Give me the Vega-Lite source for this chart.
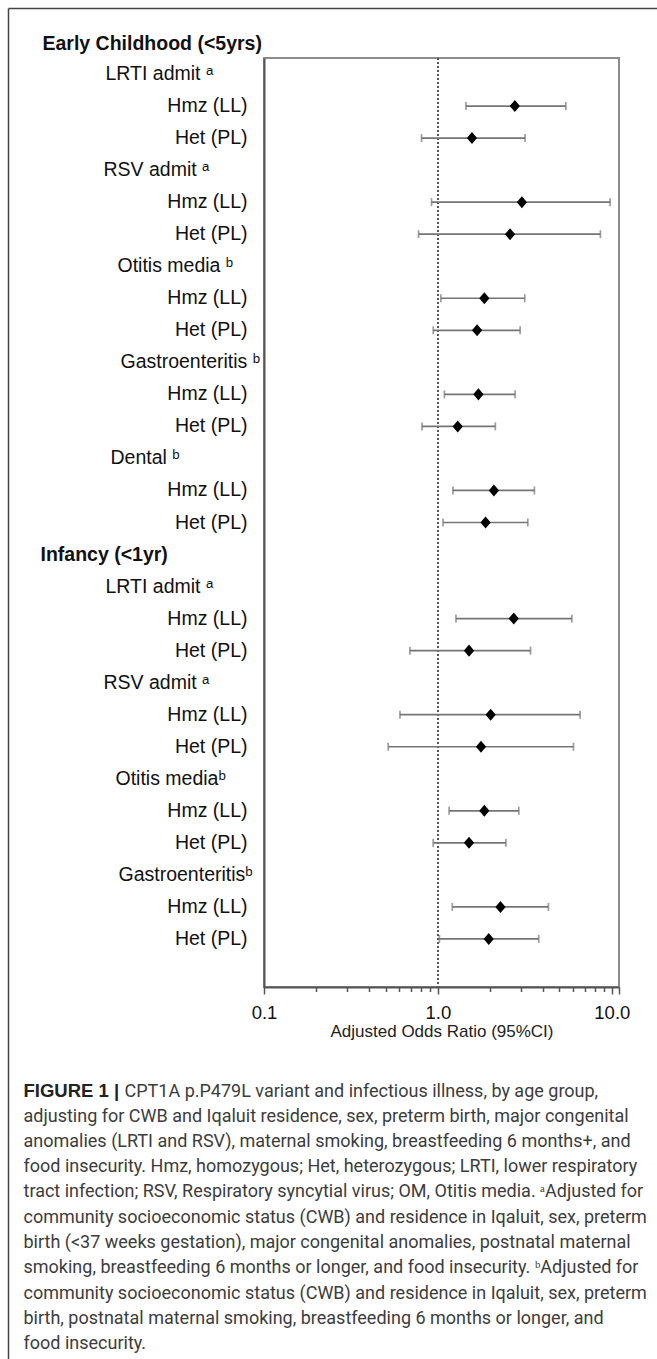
{
  "$schema": "https://vega.github.io/schema/vega-lite/v6.json",
  "width": 355,
  "height": 929,
  "autosize": {"type": "none"},
  "padding": {"left": 264, "top": 58, "right": 38, "bottom": 372},
  "background": "white",
  "config": {"view": {"stroke": "#8c8c8c", "strokeWidth": 2}, "font": "Liberation Sans"},
  "resolve": {
    "scale": {"x": "independent", "y": "independent"},
    "axis": {"x": "independent", "y": "independent"}
  },
  "layer": [
    {
      "data": {"values": [{}]},
      "mark": {"type": "point", "opacity": 0},
      "encoding": {
        "x": {
          "datum": 0, "type": "quantitative",
          "scale": {"domain": [0, 1], "range": [-256, 400]},
          "axis": {
            "orient": "top", "offset": 50, "domainColor": "#444", "domainWidth": 1.5,
            "ticks": false, "labels": false, "grid": false,
            "title": "FIGURE 1 |", "titleX": -241, "titleY": 1088, "titleAlign": "left",
            "titleBaseline": "alphabetic", "titleAngle": 0, "titleFont": "Liberation Sans",
            "titleFontSize": 18.5, "titleFontWeight": "bold", "titleColor": "#222"
          }
        },
        "y": {
          "datum": 0, "type": "quantitative",
          "scale": {"domain": [0, 1], "range": [-50, 1310]},
          "axis": {
            "orient": "left", "offset": 256, "domainColor": "#444", "domainWidth": 1.5,
            "ticks": false, "labels": false, "grid": false,
            "title": [
              "adjusting for CWB and Iqaluit residence, sex, preterm birth, major congenital",
              "anomalies (LRTI and RSV), maternal smoking, breastfeeding 6 months+, and",
              "food insecurity. Hmz, homozygous; Het, heterozygous; LRTI, lower respiratory",
              "tract infection; RSV, Respiratory syncytial virus; OM, Otitis media. ᵃAdjusted for",
              "community socioeconomic status (CWB) and residence in Iqaluit, sex, preterm",
              "birth (<37 weeks gestation), major congenital anomalies, postnatal maternal",
              "smoking, breastfeeding 6 months or longer, and food insecurity. ᵇAdjusted for",
              "community socioeconomic status (CWB) and residence in Iqaluit, sex, preterm",
              "birth, postnatal maternal smoking, breastfeeding 6 months or longer, and",
              "food insecurity."
            ],
            "titleX": 15, "titleY": 1063, "titleAlign": "left", "titleBaseline": "alphabetic",
            "titleAngle": 0, "titleLineHeight": 25.3, "titleFont": "Roboto", "titleFontSize": 18,
            "titleFontWeight": "normal", "titleColor": "#3c3c3c"
          }
        }
      }
    },
    {
      "data": {"values": [{}]},
      "mark": {"type": "point", "opacity": 0},
      "encoding": {
        "x": {
          "datum": 0, "type": "quantitative",
          "scale": {"domain": [0, 1]},
          "axis": {
            "orient": "top", "offset": 0, "domain": false,
            "ticks": false, "labels": false, "grid": false,
            "title": "CPT1A p.P479L variant and infectious illness, by age group,",
            "titleX": -140, "titleY": 1038, "titleAlign": "left", "titleBaseline": "alphabetic",
            "titleAngle": 0, "titleFont": "Roboto", "titleFontSize": 18,
            "titleFontWeight": "normal", "titleColor": "#3c3c3c"
          }
        },
        "y": {"datum": 0, "type": "quantitative", "scale": {"domain": [0, 1]}, "axis": null}
      }
    },
    {
      "data": {
        "values": [
          {"row": "Early Childhood (<5yrs)|LRTI admit ᵃ", "or": null, "lo": null, "hi": null},
          {"row": "Early Childhood (<5yrs)|LRTI admit ᵃ|Hmz (LL)", "or": 2.77, "lo": 1.45, "hi": 5.44},
          {"row": "Early Childhood (<5yrs)|LRTI admit ᵃ|Het (PL)", "or": 1.57, "lo": 0.805, "hi": 3.17},
          {"row": "Early Childhood (<5yrs)|RSV admit ᵃ", "or": null, "lo": null, "hi": null},
          {"row": "Early Childhood (<5yrs)|RSV admit ᵃ|Hmz (LL)", "or": 3.04, "lo": 0.919, "hi": 9.78},
          {"row": "Early Childhood (<5yrs)|RSV admit ᵃ|Het (PL)", "or": 2.6, "lo": 0.774, "hi": 8.6},
          {"row": "Early Childhood (<5yrs)|Otitis media ᵇ", "or": null, "lo": null, "hi": null},
          {"row": "Early Childhood (<5yrs)|Otitis media ᵇ|Hmz (LL)", "or": 1.85, "lo": 1.04, "hi": 3.16},
          {"row": "Early Childhood (<5yrs)|Otitis media ᵇ|Het (PL)", "or": 1.68, "lo": 0.94, "hi": 2.97},
          {"row": "Early Childhood (<5yrs)|Gastroenteritis ᵇ", "or": null, "lo": null, "hi": null},
          {"row": "Early Childhood (<5yrs)|Gastroenteritis ᵇ|Hmz (LL)", "or": 1.71, "lo": 1.09, "hi": 2.78},
          {"row": "Early Childhood (<5yrs)|Gastroenteritis ᵇ|Het (PL)", "or": 1.3, "lo": 0.81, "hi": 2.14},
          {"row": "Early Childhood (<5yrs)|Dental ᵇ", "or": null, "lo": null, "hi": null},
          {"row": "Early Childhood (<5yrs)|Dental ᵇ|Hmz (LL)", "or": 2.1, "lo": 1.22, "hi": 3.59},
          {"row": "Early Childhood (<5yrs)|Dental ᵇ|Het (PL)", "or": 1.88, "lo": 1.07, "hi": 3.29},
          {"row": "Infancy (<1yr)", "or": null, "lo": null, "hi": null},
          {"row": "Infancy (<1yr)|LRTI admit ᵃ", "or": null, "lo": null, "hi": null},
          {"row": "Infancy (<1yr)|LRTI admit ᵃ|Hmz (LL)", "or": 2.73, "lo": 1.27, "hi": 5.89},
          {"row": "Infancy (<1yr)|LRTI admit ᵃ|Het (PL)", "or": 1.51, "lo": 0.69, "hi": 3.41},
          {"row": "Infancy (<1yr)|RSV admit ᵃ", "or": null, "lo": null, "hi": null},
          {"row": "Infancy (<1yr)|RSV admit ᵃ|Hmz (LL)", "or": 2.01, "lo": 0.605, "hi": 6.57},
          {"row": "Infancy (<1yr)|RSV admit ᵃ|Het (PL)", "or": 1.77, "lo": 0.518, "hi": 6.02},
          {"row": "Infancy (<1yr)|Otitis mediaᵇ", "or": null, "lo": null, "hi": null},
          {"row": "Infancy (<1yr)|Otitis mediaᵇ|Hmz (LL)", "or": 1.85, "lo": 1.16, "hi": 2.92},
          {"row": "Infancy (<1yr)|Otitis mediaᵇ|Het (PL)", "or": 1.51, "lo": 0.94, "hi": 2.46},
          {"row": "Infancy (<1yr)|Gastroenteritisᵇ", "or": null, "lo": null, "hi": null},
          {"row": "Infancy (<1yr)|Gastroenteritisᵇ|Hmz (LL)", "or": 2.29, "lo": 1.21, "hi": 4.32},
          {"row": "Infancy (<1yr)|Gastroenteritisᵇ|Het (PL)", "or": 1.96, "lo": 1.02, "hi": 3.8}
        ]
      },
      "resolve": {"axis": {"x": "independent", "y": "independent"}},
      "layer": [
        {
          "mark": {"type": "rule", "opacity": 0},
          "encoding": {
            "y": {
              "field": "row", "type": "nominal", "sort": null,
              "scale": {"type": "band", "paddingInner": 0, "paddingOuter": 0.5, "align": 0},
              "axis": {
                "orient": "left",
                "title": "Early Childhood (<5yrs)", "titleAngle": 0, "titleAlign": "left",
                "titleBaseline": "middle", "titleX": -222, "titleY": -15,
                "titleFont": "Liberation Sans", "titleFontSize": 19.5, "titleFontWeight": "bold",
                "titleColor": "#111",
                "domain": true, "domainColor": "#555", "domainWidth": 2,
                "ticks": false, "tickSize": 0, "grid": false,
                "labelExpr": "peek(split(datum.value, '|'))",
                "labelFont": "Liberation Sans", "labelFontSize": 19.5, "labelColor": "#111",
                "labelLimit": 400, "labelOverlap": false,
                "labelAlign": {"condition": {"test": "length(split(datum.value,'|'))==3", "value": "right"}, "value": "left"},
                "labelFontWeight": {"condition": {"test": "length(split(datum.value,'|'))==1", "value": "bold"}, "value": "normal"},
                "labelPadding": {"expr": "length(split(datum.value,'|'))==3 ? 17 : length(split(datum.value,'|'))==1 ? 224 : indexof(datum.value,'Otitis')>=0 ? (indexof(datum.value,'Infancy')>=0 ? 149 : 147) : indexof(datum.value,'Gastro')>=0 ? (indexof(datum.value,'Infancy')>=0 ? 146 : 144) : indexof(datum.value,'Dental')>=0 ? 154 : indexof(datum.value,'RSV')>=0 ? 161 : 159"}
              }
            }
          }
        },
        {
          "mark": {"type": "rule", "color": "#555", "strokeDash": [2, 2], "strokeWidth": 1},
          "encoding": {
            "x": {
              "datum": 1, "type": "quantitative",
              "scale": {"type": "log", "domain": [0.1, 11], "nice": false},
              "axis": {
                "orient": "bottom",
                "values": [0.1, 0.2, 0.3, 0.4, 0.5, 0.6, 0.7, 0.8, 0.9, 1, 2, 3, 4, 5, 6, 7, 8, 9, 10, 11],
                "labelExpr": "(datum.value==0.1||datum.value==1||datum.value==10) ? format(datum.value,'.1f') : ''",
                "tickSize": {"condition": {"test": "datum.value==0.1||datum.value==1||datum.value==10||datum.value==11", "value": 7}, "value": 4.5},
                "tickColor": "#555", "tickWidth": 1.5,
                "domainColor": "#555", "domainWidth": 2, "grid": false,
                "labelFont": "Liberation Sans", "labelFontSize": 18.5, "labelColor": "#111",
                "labelPadding": 9, "labelFlush": false, "labelOverlap": false, "labelBound": false,
                "title": "Adjusted Odds Ratio (95%CI)", "titleFont": "Liberation Sans",
                "titleFontSize": 17, "titleFontWeight": "normal", "titleColor": "#222",
                "titlePadding": 2
              }
            }
          }
        },
        {
          "mark": {"type": "rule", "color": "#747474", "strokeWidth": 1.7},
          "encoding": {
            "x": {"field": "lo", "type": "quantitative", "axis": null},
            "x2": {"field": "hi"},
            "y": {"field": "row", "type": "nominal", "sort": null, "axis": null}
          }
        },
        {
          "mark": {"type": "tick", "color": "#747474", "thickness": 1.7, "size": 8},
          "encoding": {
            "x": {"field": "lo", "type": "quantitative", "axis": null},
            "y": {"field": "row", "type": "nominal", "sort": null, "axis": null}
          }
        },
        {
          "mark": {"type": "tick", "color": "#747474", "thickness": 1.7, "size": 8},
          "encoding": {
            "x": {"field": "hi", "type": "quantitative", "axis": null},
            "y": {"field": "row", "type": "nominal", "sort": null, "axis": null}
          }
        },
        {
          "mark": {"type": "point", "shape": "M-0.85,0L0,-1L0.85,0L0,1Z", "filled": true, "color": "#000", "size": 145, "opacity": 1},
          "encoding": {
            "x": {"field": "or", "type": "quantitative", "axis": null},
            "y": {"field": "row", "type": "nominal", "sort": null, "axis": null}
          }
        }
      ]
    }
  ]
}
